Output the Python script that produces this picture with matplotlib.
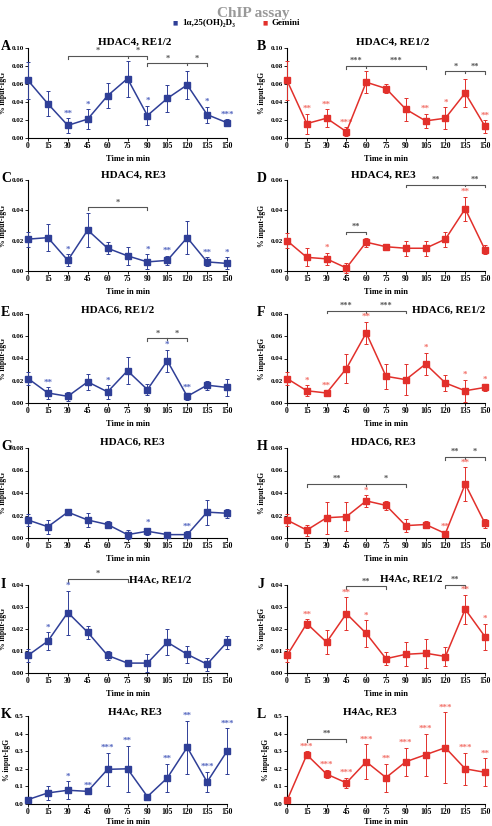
import matplotlib
matplotlib.use('Agg')
import matplotlib.pyplot as plt

plt.rcParams['font.family'] = ['Liberation Serif', 'DejaVu Serif']
plt.rcParams['font.weight'] = 'bold'
plt.rcParams['mathtext.fontset'] = 'stix'

times = [0, 15, 30, 45, 60, 75, 90, 105, 120, 135, 150]

# ---- data ----
A_mean = [0.064, 0.038, 0.014, 0.021, 0.047, 0.066, 0.025, 0.044, 0.059, 0.026, 0.017]
A_err = [0.021, 0.014, 0.008, 0.011, 0.014, 0.020, 0.011, 0.015, 0.016, 0.009, 0.004]
A_stars = ['', '', '**', '*', '', '', '*', '', '', '*', '***']

B_mean = [0.064, 0.016, 0.022, 0.007, 0.062, 0.055, 0.032, 0.019, 0.022, 0.050, 0.013]
B_err = [0.022, 0.011, 0.010, 0.005, 0.012, 0.005, 0.013, 0.008, 0.012, 0.016, 0.007]
B_stars = ['', '**', '**', '***', '', '', '', '**', '*', '', '**']

C_mean = [0.021, 0.022, 0.007, 0.027, 0.015, 0.010, 0.006, 0.007, 0.022, 0.006, 0.005]
C_err = [0.005, 0.009, 0.004, 0.011, 0.004, 0.006, 0.005, 0.003, 0.011, 0.003, 0.004]
C_stars = ['', '', '*', '', '', '', '*', '**', '', '**', '*']

D_mean = [0.020, 0.009, 0.008, 0.002, 0.019, 0.016, 0.015, 0.015, 0.021, 0.041, 0.014]
D_err = [0.005, 0.006, 0.004, 0.003, 0.003, 0.002, 0.005, 0.005, 0.005, 0.008, 0.003]
D_stars = ['', '', '*', '', '', '', '', '', '', '**', '']

E_mean = [0.022, 0.009, 0.006, 0.019, 0.010, 0.029, 0.012, 0.038, 0.006, 0.016, 0.014]
E_err = [0.006, 0.005, 0.004, 0.007, 0.006, 0.012, 0.005, 0.010, 0.003, 0.004, 0.008]
E_stars = ['', '**', '', '', '*', '', '', '*', '**', '', '']

F_mean = [0.022, 0.011, 0.009, 0.031, 0.063, 0.024, 0.021, 0.035, 0.018, 0.011, 0.014]
F_err = [0.006, 0.005, 0.002, 0.013, 0.010, 0.011, 0.014, 0.010, 0.007, 0.010, 0.003]
F_stars = ['', '*', '**', '', '**', '', '', '*', '', '*', '*']

G_mean = [0.016, 0.010, 0.023, 0.016, 0.012, 0.003, 0.006, 0.003, 0.003, 0.023, 0.022]
G_err = [0.005, 0.006, 0.002, 0.006, 0.003, 0.004, 0.003, 0.001, 0.003, 0.011, 0.004]
G_stars = ['', '', '', '', '', '', '*', '', '**', '', '']

H_mean = [0.016, 0.007, 0.018, 0.019, 0.033, 0.029, 0.011, 0.012, 0.004, 0.048, 0.013]
H_err = [0.005, 0.005, 0.014, 0.013, 0.005, 0.004, 0.006, 0.003, 0.002, 0.015, 0.004]
H_stars = ['', '', '', '', '*', '', '', '', '**', '**', '']

I_mean = [0.008, 0.0145, 0.0275, 0.0185, 0.008, 0.0045, 0.0045, 0.014, 0.0085, 0.004, 0.014]
I_err = [0.003, 0.004, 0.010, 0.003, 0.002, 0.0006, 0.004, 0.006, 0.004, 0.003, 0.003]
I_stars = ['', '*', '*', '', '', '', '', '', '', '', '']

J_mean = [0.008, 0.0225, 0.014, 0.027, 0.018, 0.0065, 0.0085, 0.009, 0.0075, 0.029, 0.0165]
J_err = [0.003, 0.002, 0.0055, 0.0075, 0.006, 0.003, 0.0055, 0.0065, 0.0045, 0.0065, 0.006]
J_stars = ['', '**', '', '**', '*', '', '', '', '', '**', '*']

K_mean = [0.025, 0.063, 0.078, 0.072, 0.197, 0.200, 0.042, 0.148, 0.322, 0.125, 0.300]
K_err = [0.015, 0.040, 0.050, 0.005, 0.093, 0.130, 0.012, 0.080, 0.150, 0.058, 0.130]
K_stars = ['', '', '*', '**', '***', '**', '', '**', '**', '***', '***']

L_mean = [0.020, 0.280, 0.170, 0.120, 0.240, 0.150, 0.240, 0.280, 0.320, 0.200, 0.180]
L_err = [0.015, 0.020, 0.025, 0.030, 0.100, 0.080, 0.080, 0.120, 0.200, 0.090, 0.080]
L_stars = ['', '***', '***', '***', '***', '**', '***', '***', '***', '***', '**']

# brackets: (x_start, x_mid or None, x_end, y, [labels])
A_br = [(30, 75, 90, 0.091, ['*', '*']), (90, 120, 135, 0.083, ['*', '*'])]
B_br = [(45, 60, 105, 0.080, ['***', '***']), (120, 135, 150, 0.074, ['*', '**'])]
C_br = [(45, None, 90, 0.042, ['*'])]
D_br = [(45, None, 60, 0.026, ['**']), (90, 135, 150, 0.057, ['**', '**'])]
E_br = [(90, 105, 120, 0.058, ['*', '*'])]
F_br = [(30, 60, 90, 0.083, ['***', '***'])]
G_br = []
H_br = [(15, 60, 90, 0.048, ['**', '*']), (120, 135, 150, 0.072, ['**', '*'])]
I_br = [(30, None, 75, 0.0427, ['*'])]
J_br = [(45, None, 75, 0.0395, ['**']), (120, None, 135, 0.040, ['**'])]
K_br = []
L_br = [(15, None, 45, 0.37, ['**'])]

titles = ['HDAC4, RE1/2', 'HDAC4, RE1/2', 'HDAC4, RE3', 'HDAC4, RE3',
          'HDAC6, RE1/2', 'HDAC6, RE1/2', 'HDAC6, RE3', 'HDAC6, RE3',
          'H4Ac, RE1/2', 'H4Ac, RE1/2', 'H4Ac, RE3', 'H4Ac, RE3']
letters = ['A', 'B', 'C', 'D', 'E', 'F', 'G', 'H', 'I', 'J', 'K', 'L']
yticks_rows = [
    ([0, 0.02, 0.04, 0.06, 0.08, 0.10], ['0.00', '0.02', '0.04', '0.06', '0.08', '0.10']),
    ([0, 0.02, 0.04, 0.06], ['0.00', '0.02', '0.04', '0.06']),
    ([0, 0.02, 0.04, 0.06, 0.08], ['0.00', '0.02', '0.04', '0.06', '0.08']),
    ([0, 0.02, 0.04, 0.06, 0.08], ['0.00', '0.02', '0.04', '0.06', '0.08']),
    ([0, 0.01, 0.02, 0.03, 0.04], ['0.00', '0.01', '0.02', '0.03', '0.04']),
    ([0, 0.1, 0.2, 0.3, 0.4, 0.5], ['0.0', '0.1', '0.2', '0.3', '0.4', '0.5']),
]

BLUE = '#2f3f97'
BLUE_STAR = '#5668c0'
RED = '#e2302b'
RED_STAR = '#f2726a'
GRAY = '#555555'

W, H = 492, 826
fig = plt.figure(figsize=(W / 100, H / 100), dpi=100)
fig.patch.set_facecolor('white')

rows = [(48, 138), (180, 271), (314, 403), (448, 538), (585, 673), (716, 804)]
cols = [(28, 227), (287, 485)]
title_pos = [(135, 42), (393, 42), (133, 175), (383, 175), (118, 310), (449, 310),
             (132, 442), (383, 442), (160, 580), (411, 579), (135, 712), (370, 712)]
letter_pos = [(1, 47), (257, 47), (1, 179), (257, 179), (1, 313), (257, 313),
              (1, 447), (257, 447), (1, 584), (257, 584), (1, 715), (257, 715)]

panels = [
    (A_mean, A_err, A_stars, A_br), (B_mean, B_err, B_stars, B_br),
    (C_mean, C_err, C_stars, C_br), (D_mean, D_err, D_stars, D_br),
    (E_mean, E_err, E_stars, E_br), (F_mean, F_err, F_stars, F_br),
    (G_mean, G_err, G_stars, G_br), (H_mean, H_err, H_stars, H_br),
    (I_mean, I_err, I_stars, I_br), (J_mean, J_err, J_stars, J_br),
    (K_mean, K_err, K_stars, K_br), (L_mean, L_err, L_stars, L_br),
]

for i, (mean, err, stars, brs) in enumerate(panels):
    r, c = divmod(i, 2)
    y0, y1 = rows[r]
    x0, x1 = cols[c]
    ax = fig.add_axes([x0 / W, 1 - y1 / H, (x1 - x0) / W, (y1 - y0) / H])
    col = BLUE if c == 0 else RED
    scol = BLUE_STAR if c == 0 else RED_STAR
    ax.errorbar(times, mean, yerr=err, color=col, ecolor=col, elinewidth=0.7,
                capsize=1.5, capthick=0.7, lw=1.1, marker='s', ms=3.8,
                clip_on=False, zorder=3)
    yt, ytl = yticks_rows[r]
    ax.set_ylim(0, yt[-1])
    ax.set_xlim(0, 150)
    ax.set_yticks(yt)
    ax.set_yticklabels(ytl, fontsize=5, fontweight='bold')
    ax.set_xticks(times)
    ax.set_xticklabels([str(t) for t in times], fontsize=5.5, fontweight='bold')
    ax.tick_params(length=2, width=0.6, pad=1.2)
    for s in ['top', 'right']:
        ax.spines[s].set_visible(False)
    for s in ['left', 'bottom']:
        ax.spines[s].set_linewidth(0.8)
    ax.set_xlabel('Time in min', fontsize=6, fontweight='bold',
                  labelpad=1.0 if r == 5 else 3)
    ax.set_ylabel('% input-IgG', fontsize=5.5, fontweight='bold', labelpad=3)
    for t, m, e, s in zip(times, mean, err, stars):
        if s:
            ax.annotate(s, (t, m + e), xytext=(0, 0.5), textcoords='offset points',
                        ha='center', va='bottom', fontsize=6.5, color=scol,
                        fontweight='bold', annotation_clip=False)
    dy = yt[-1] * 0.03
    for (xa, xm, xb, yb, labs) in brs:
        ax.plot([xa, xa, xb, xb], [yb - dy, yb, yb, yb - dy], color=GRAY, lw=0.8,
                clip_on=False)
        if xm is not None:
            ax.plot([xm, xm], [yb, yb - dy * 0.7], color=GRAY, lw=0.8, clip_on=False)
            mids = [(xa + xm) / 2, (xm + xb) / 2]
        else:
            mids = [(xa + xb) / 2]
        for xmid, lab in zip(mids, labs):
            ax.text(xmid, yb + dy * 0.3, lab, ha='center', va='bottom', fontsize=6,
                    color=GRAY, fontweight='bold', clip_on=False)
    tx, ty = title_pos[i]
    fig.text(tx / W, 1 - ty / H, titles[i], ha='center', va='center',
             fontsize=8, fontweight='bold')
    lx, ly = letter_pos[i]
    fig.text(lx / W, 1 - ly / H, letters[i], ha='left', va='center',
             fontsize=10, fontweight='bold')

fig.text(253 / W, 1 - 14 / H, 'ChIP assay', ha='center', va='center',
         fontsize=11, fontweight='bold', color='#999999')
fig.text(175 / W, 1 - 23 / H, '\u25a0', ha='center', va='center', fontsize=4, color=BLUE,
         family=['DejaVu Sans'])
fig.text(182 / W, 1 - 23 / H, '1\u03b1,25(OH)\u2082D\u2083', ha='left', va='center',
         fontsize=6.5, fontweight='bold')
fig.text(265 / W, 1 - 23 / H, '\u25a0', ha='center', va='center', fontsize=4, color=RED,
         family=['DejaVu Sans'])
fig.text(272 / W, 1 - 23 / H, 'Gemini', ha='left', va='center',
         fontsize=6.5, fontweight='bold')

fig.savefig('out.png', dpi=100)
